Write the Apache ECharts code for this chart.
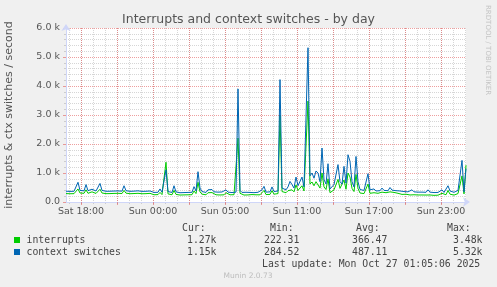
<!DOCTYPE html>
<html><head><meta charset="utf-8">
<script src="https://cdn.jsdelivr.net/npm/echarts@6/dist/echarts.min.js"></script>
<style>html,body{margin:0;padding:0;background:#f0f0f0;}#c{width:497px;height:287px;}</style>
</head><body><div id="c"></div>
<script>
// Time axis in hours since Sat 00:00 (local, before DST change); one sample every 10 min
const startHour = 16.75;          // Sat 16:45
const stepHours = 1 / 6;
const tickLabels = ['Sat 18:00', 'Sun 00:00', 'Sun 05:00', 'Sun 11:00', 'Sun 17:00', 'Sun 23:00'];
const labelHours = [18, 24, 30, 36, 42, 48];
const majorHours = [18, 21, 24, 27, 30, 33, 36, 39, 42, 45, 48];
const minorHours = [17, 18, 19, 20, 21, 22, 23, 24, 25, 26, 27, 28, 29, 30, 31, 32, 33, 34, 35, 36, 37, 38, 39, 40, 41, 42, 43, 44, 45, 46, 47, 48, 49, 50];
const yTickLabels = ['0.0', '1.0 k', '2.0 k', '3.0 k', '4.0 k', '5.0 k', '6.0 k'];

const interrupts = [
  290,300,285,295,288,300,
  450,310,290,300,420,300,292,
  350,330,295,300,440,310,292,
  288,298,290,285,296,290,300,286,292,
  400,305,
  290,286,298,292,288,300,290,284,295,288,292,298,286,
  250,245,255,330,255,270,
  1370,280,240,250,400,262,
  248,240,252,245,256,248,240,252,
  380,290,680,350,270,255,248,320,295,325,262,
  248,255,242,260,248,320,256,248,242,252,256,
  2200,300,
  248,240,252,244,248,256,240,248,252,248,320,
  400,256,248,262,390,270,255,290,
  3000,360,345,320,390,450,420,350,590,400,440,560,380,350,
  3480,620,690,560,700,650,480,1000,520,430,800,320,340,420,380,780,470,420,760,440,1000,860,470,360,950,470,310,300,290,320,620,300,
  290,320,275,300,280,340,285,320,280,350,290,330,280,300,270,262,255,268,250,242,
  300,250,235,242,290,242,235,240,300,242,235,230,240,235,242,300,236,250,400,270,
  242,238,235,290,258,900,280,1270
];
const contextSwitches = [
  372,380,365,378,370,385,
  680,400,370,385,600,390,375,
  440,420,380,390,640,400,375,
  370,380,372,365,378,370,382,368,375,
  560,390,
  372,368,380,375,370,385,372,366,378,370,374,380,368,
  330,325,335,450,340,360,
  1110,360,320,330,560,350,
  330,320,335,325,340,330,322,335,
  530,380,1045,480,360,340,330,420,390,430,350,
  330,340,325,345,330,420,340,330,325,335,340,
  3900,400,
  330,320,335,325,330,340,322,330,335,330,420,
  540,340,330,350,520,360,340,380,
  4220,480,460,420,520,710,600,480,860,560,620,860,520,480,
  5320,900,1000,820,1070,1000,700,1860,770,620,1320,450,480,600,560,1290,700,620,1230,650,1630,1400,700,520,1570,700,430,420,400,440,976,420,
  400,450,380,420,390,480,400,450,390,500,410,470,390,420,380,370,360,380,350,340,
  420,350,330,340,400,340,330,335,420,340,330,325,335,330,340,420,330,350,560,380,
  340,335,330,400,360,1435,350,1150
];

const legendNames = ['interrupts', 'context switches'];
const legendColors = ['#00cc00', '#0066b3'];
const statHeaders = ['Cur:', 'Min:', 'Avg:', 'Max:'];
const statRows = [
  ['1.27k', '222.31', '366.47', '3.48k'],
  ['1.15k', '284.52', '487.11', '5.32k']
];
const lastUpdate = 'Last update: Mon Oct 27 01:05:06 2025';

const endHour = startHour + (interrupts.length - 1) * stepHours;
const toXY = arr => arr.map((v, i) => [startHour + i * stepHours, v]);

const majorColor = 'rgba(224,80,80,0.55)';
const minorColor = '#d6d6d6';
const axisColor = '#CFD6F8';
const fontColor = '#555555';
const mono = 'DejaVu Sans Mono';

const headerX = [182, 270, 356, 447];
const valueX = [187, 264, 352, 453];
const graphics = [
  { type: 'text', x: 248.5, y: 19.5, style: { text: 'Interrupts and context switches - by day', font: '12.5px "DejaVu Sans"', fill: fontColor, textAlign: 'center', textVerticalAlign: 'middle' } },
  { type: 'text', x: 9, y: 115, rotation: Math.PI / 2, style: { text: 'interrupts & ctx switches / second', font: '11px "DejaVu Sans"', fill: fontColor, textAlign: 'center', textVerticalAlign: 'middle' } },
  { type: 'text', x: 487.5, y: 5, rotation: -Math.PI / 2, style: { text: 'RRDTOOL / TOBI OETIKER', font: '7px "DejaVu Sans"', fill: '#c4c4c4', textAlign: 'left', textVerticalAlign: 'middle' } },
  { type: 'text', x: 248, y: 276, style: { text: 'Munin 2.0.73', font: '7.5px "DejaVu Sans"', fill: '#bdbdbd', textAlign: 'center', textVerticalAlign: 'middle' } },
  { type: 'text', x: 262, y: 264, style: { text: lastUpdate, font: '9.8px "' + mono + '"', fill: '#444', textAlign: 'left', textVerticalAlign: 'middle' } }
];
statHeaders.forEach((h, k) => graphics.push({ type: 'text', x: headerX[k], y: 228, style: { text: h, font: '9.8px "' + mono + '"', fill: '#444', textAlign: 'left', textVerticalAlign: 'middle' } }));
legendNames.forEach((n, r) => {
  const y = 240 + r * 12;
  graphics.push({ type: 'rect', shape: { x: 14, y: y - 3, width: 6, height: 6 }, style: { fill: legendColors[r] } });
  graphics.push({ type: 'text', x: 26.5, y: y, style: { text: n, font: '9.8px "' + mono + '"', fill: '#444', textAlign: 'left', textVerticalAlign: 'middle' } });
  statRows[r].forEach((s, k) => graphics.push({ type: 'text', x: valueX[k], y: y, style: { text: s, font: '9.8px "' + mono + '"', fill: '#444', textAlign: 'left', textVerticalAlign: 'middle' } }));
});

const chart = echarts.init(document.getElementById('c'), null, { renderer: 'canvas' });
chart.setOption({
  animation: false,
  backgroundColor: '#f0f0f0',
  grid: { left: 66, top: 28, width: 400, height: 174, show: true, backgroundColor: '#ffffff', borderWidth: 0, z: 0 },
  xAxis: [
    {
      type: 'value', min: startHour, max: endHour, position: 'bottom', z: 2,
      axisLine: { show: true, onZero: false, lineStyle: { color: axisColor, width: 1 }, symbol: ['none', 'arrow'], symbolSize: [7, 7], symbolOffset: [0, 4] },
      axisTick: { show: true, customValues: majorHours, length: 3, lineStyle: { color: majorColor } },
      axisLabel: { show: true, customValues: labelHours, formatter: v => tickLabels[labelHours.indexOf(v)], margin: 5, color: fontColor, fontFamily: 'DejaVu Sans', fontSize: 9.5 },
      splitLine: { show: true, lineStyle: { color: majorColor, type: [1, 1] } }
    },
    {
      type: 'value', min: startHour, max: endHour, position: 'bottom', z: 1,
      axisLine: { show: false }, axisLabel: { show: false },
      axisTick: { show: true, customValues: minorHours, length: 2, lineStyle: { color: '#cccccc' } },
      splitLine: { show: true, lineStyle: { color: minorColor, type: [1, 1] } }
    }
  ],
  yAxis: {
    type: 'value', min: 0, max: 6000, interval: 1000, z: 2,
    axisLine: { show: true, lineStyle: { color: axisColor, width: 1 }, symbol: ['none', 'arrow'], symbolSize: [7, 7], symbolOffset: [0, 4] },
    axisTick: { show: true, length: 3, lineStyle: { color: majorColor } },
    minorTick: { show: true, splitNumber: 5, length: 2, lineStyle: { color: '#cccccc' } },
    axisLabel: { formatter: v => yTickLabels[Math.round(v / 1000)], margin: 6, color: fontColor, fontFamily: 'DejaVu Sans', fontSize: 9.5 },
    splitLine: { show: true, lineStyle: { color: majorColor, type: [1, 1] } },
    minorSplitLine: { show: true, lineStyle: { color: minorColor, type: [1, 1] } }
  },
  series: [
    { name: legendNames[0], type: 'line', xAxisIndex: 0, data: toXY(interrupts), showSymbol: false, symbol: 'none', lineStyle: { color: legendColors[0], width: 1 }, itemStyle: { color: legendColors[0] }, z: 3 },
    { name: legendNames[1], type: 'line', xAxisIndex: 0, data: toXY(contextSwitches), showSymbol: false, symbol: 'none', lineStyle: { color: legendColors[1], width: 1 }, itemStyle: { color: legendColors[1] }, z: 4 }
  ],
  graphic: graphics
});
</script>
</body></html>
